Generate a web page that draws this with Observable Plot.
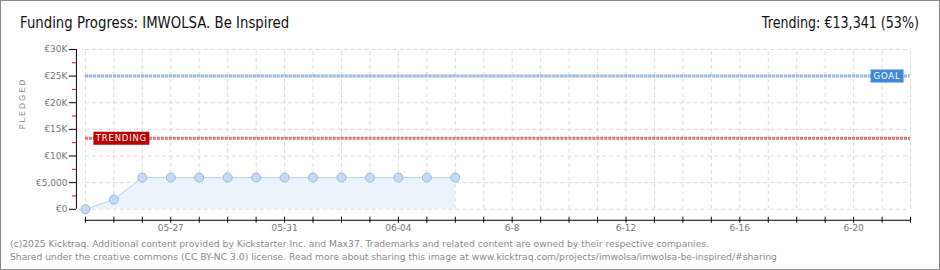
<!DOCTYPE html>
<html><head><meta charset="utf-8">
<script src="https://cdn.jsdelivr.net/npm/d3@7"></script>
<script src="https://cdn.jsdelivr.net/npm/@observablehq/plot@0.6"></script>
<style>
body{margin:0;background:#fff;}
#wrap{position:relative;width:940px;height:270px;box-sizing:border-box;border:1px solid #8a8a8a;overflow:hidden;background:#fff;}
#title{position:absolute;left:19px;top:13px;font-family:"DejaVu Sans",sans-serif;font-size:15px;color:#111;white-space:nowrap;transform:scaleX(0.885);transform-origin:left center;}
#trend{position:absolute;right:20px;top:13px;font-family:"DejaVu Sans",sans-serif;font-size:15px;color:#111;white-space:nowrap;transform:scaleX(0.845);transform-origin:right center;}
#chart{position:absolute;left:-1px;top:-1px;}
#foot{position:absolute;left:9px;top:236px;font-family:"DejaVu Sans",sans-serif;font-size:9.2px;color:#8a8a8a;line-height:13px;white-space:nowrap;}
.lbl text{letter-spacing:0.8px;}
.pl text{letter-spacing:2px;}
</style>
</head><body>
<div id="wrap">
  <div id="chart"></div>
  <div id="title">Funding Progress: IMWOLSA. Be Inspired</div>
  <div id="trend">Trending: €13,341 (53%)</div>
  <div id="foot">(c)2025 Kicktraq. Additional content provided by Kickstarter Inc. and Max37. Trademarks and related content are owned by their respective companies.<br>Shared under the creative commons (CC BY-NC 3.0) license. Read more about sharing this image at www.kicktraq.com/projects/imwolsa/imwolsa-be-inspired/#sharing</div>
</div>
<script>
// ---- data ----
const dates = ["2025-05-24","2025-05-25","2025-05-26","2025-05-27","2025-05-28","2025-05-29","2025-05-30","2025-05-31","2025-06-01","2025-06-02","2025-06-03","2025-06-04","2025-06-05","2025-06-06"];
const pledged = [0, 1820, 5950, 5950, 5950, 5950, 5950, 5950, 5950, 5950, 5950, 5950, 5950, 5950];
const axisStart = "2025-05-24";
const axisEnd = "2025-06-22";
const goal = 25000;
const trending = 13341;
const yTicks = [0, 5000, 10000, 15000, 20000, 25000, 30000];
const yTickLabels = ["€0", "€5,000", "€10K", "€15K", "€20K", "€25K", "€30K"];
const yMinorTicks = [2500, 7500, 12500, 17500, 22500, 27500];
const xTickDates = ["2025-05-27","2025-05-31","2025-06-04","2025-06-08","2025-06-12","2025-06-16","2025-06-20"];
const xTickLabels = ["05-27","05-31","06-04","6-8","6-12","6-16","6-20"];

const parse = d3.utcParse("%Y-%m-%d");
const start = parse(axisStart), end = parse(axisEnd);
const days = d3.utcDay.range(start, d3.utcDay.offset(end, 1));
const series = dates.map((d, i) => ({date: parse(d), pledged: pledged[i]}));
const xLabelMap = new Map(xTickDates.map((d, i) => [+parse(d), xTickLabels[i]]));
const yLabelMap = new Map(yTicks.map((v, i) => [v, yTickLabels[i]]));

function boxSymbol(w, h) {
  return {draw(ctx) { ctx.rect(-w / 2, -h / 2, w, h); }};
}

const grid = {stroke: "#dcdcdc", strokeDasharray: "4,3"};

const plot = Plot.plot({
  width: 940, height: 270,
  marginLeft: 85, marginRight: 29, marginTop: 49, marginBottom: 61,
  x: {type: "utc", domain: [start, end], label: null},
  y: {domain: [0, 30000], label: null},
  style: {fontFamily: "DejaVu Sans, sans-serif", fontSize: "9px", background: "transparent", overflow: "visible"},
  marks: [
    Plot.ruleY(yTicks, {x1: start, x2: end, ...grid}),
    Plot.ruleX(days, {y1: 0, y2: 30000, ...grid}),
    Plot.areaY(series, {x: "date", y: "pledged", fill: "#eaf2fc"}),
    Plot.lineY(series, {x: "date", y: "pledged", stroke: "#b6d1f0", strokeWidth: 1}),
    Plot.ruleY([goal], {x1: start, x2: end, stroke: "#88acdc", strokeWidth: 3, strokeDasharray: "3,1"}),
    Plot.ruleY([goal], {x1: start, x2: end, stroke: "#d6e4f6", strokeWidth: 1, strokeDasharray: "1,3", strokeDashoffset: -1}),
    Plot.ruleY([trending], {x1: start, x2: end, stroke: "#d06a6a", strokeWidth: 3, strokeDasharray: "3,1"}),
    Plot.ruleY([trending], {x1: start, x2: end, stroke: "#f0c4c4", strokeWidth: 1, strokeDasharray: "1,3", strokeDashoffset: -1}),
    Plot.dot(series, {x: "date", y: "pledged", r: 4.5, fill: "#c4dbf6", stroke: "#98b5dc", strokeWidth: 1}),
    // labels
    Plot.dot([goal], {x: () => end, y: d => d, dx: -23.5, symbol: boxSymbol(33, 13), fill: "#3f88da", stroke: "none"}),
    Plot.text([goal], {x: () => end, y: d => d, dx: -23.5, dy: 0.5, text: () => "GOAL", fill: "white", fontSize: 8.5, className: "lbl"}),
    Plot.dot([trending], {x: () => start, y: d => d, dx: 36, symbol: boxSymbol(56, 13), fill: "#bb0000", stroke: "none"}),
    Plot.text([trending], {x: () => start, y: d => d, dx: 36, dy: 0.5, text: () => "TRENDING", fill: "white", fontSize: 8.5, className: "lbl"}),
    // y axis
    Plot.ruleX([start], {y1: 0, y2: 30000, dx: -9, stroke: "#000"}),
    Plot.axisY({ticks: yMinorTicks, tickSize: 4, dx: -9, stroke: "#e00000", fill: "none", label: null}),
    Plot.axisY({ticks: yTicks, tickSize: 7, tickPadding: 2, dx: -9, stroke: "#000", fill: "#777", tickFormat: v => yLabelMap.get(v), label: null}),
    Plot.text(["PLEDGED"], {frameAnchor: "left", dx: -63, rotate: -90, text: d => d, fill: "#888", fontSize: 8, className: "pl"}),
    // x axis
    Plot.ruleY([0], {x1: start, x2: end, dy: 11, stroke: "#000"}),
    Plot.axisX({ticks: days, tickSize: 6, dy: 8, stroke: "#000", fill: "none", label: null}),
    Plot.axisX({ticks: xTickDates.map(parse), tickSize: 0, tickPadding: 4, dy: 11, fill: "#777", tickFormat: d => xLabelMap.get(+d), label: null})
  ]
});
document.getElementById("chart").appendChild(plot);
</script>
</body></html>
